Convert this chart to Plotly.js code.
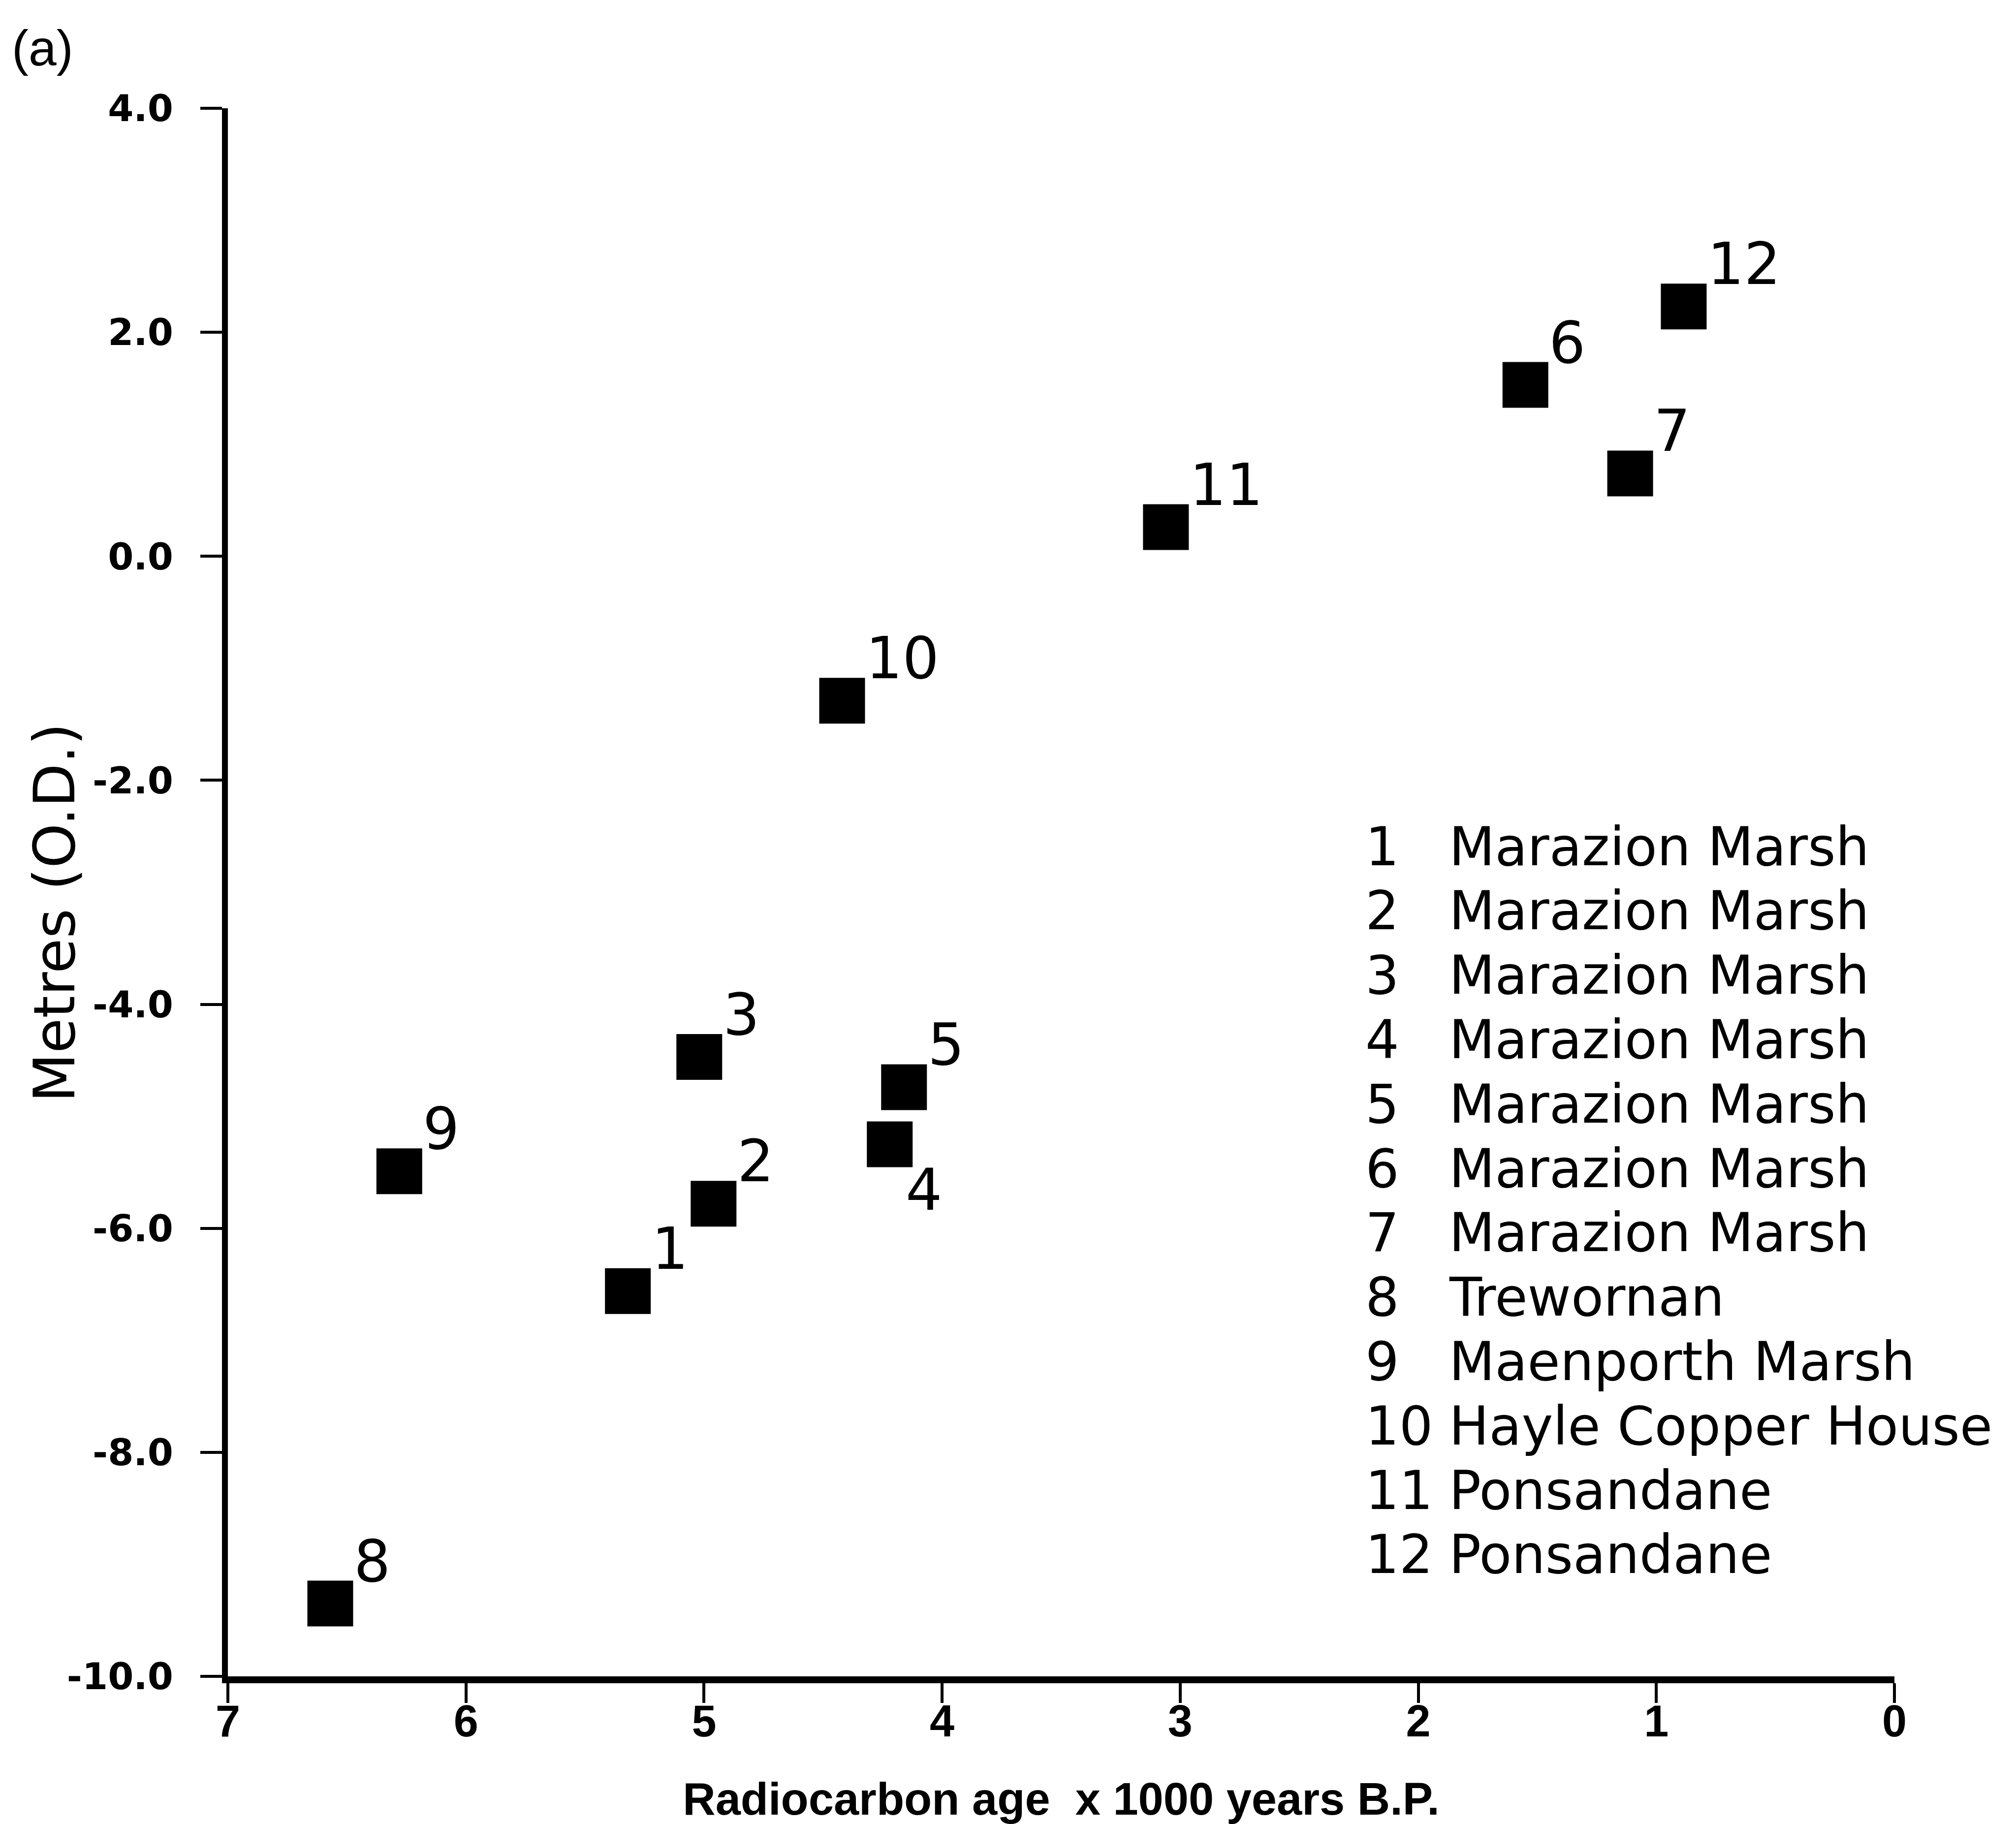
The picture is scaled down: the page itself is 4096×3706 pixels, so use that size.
<!DOCTYPE html>
<html>
<head>
<meta charset="utf-8">
<script src="https://cdn.plot.ly/plotly-3.0.1.min.js"></script>
<style>
  html, body { margin: 0; padding: 0; background: #ffffff; }
  #chart { width: 4096px; height: 3706px; }
</style>
</head>
<body>
<div id="chart"></div>
<script>
// ---- data ----
const sampleNo = ['1', '2', '3', '4', '5', '6', '7', '8', '9', '10', '11', '12'];
const siteNames = ['Marazion Marsh', 'Marazion Marsh', 'Marazion Marsh', 'Marazion Marsh',
  'Marazion Marsh', 'Marazion Marsh', 'Marazion Marsh', 'Trewornan', 'Maenporth Marsh',
  'Hayle Copper House', 'Ponsandane', 'Ponsandane'];
const ageKyrBP = [5.32, 4.96, 5.02, 4.22, 4.16, 1.55, 1.11, 6.57, 6.28, 4.42, 3.06, 0.885];
const metresOD = [-6.56, -5.78, -4.47, -5.25, -4.74, 1.53, 0.74, -9.35, -5.49, -1.29, 0.26, 2.23];
const labelSide = ['above', 'above', 'above', 'below', 'above', 'above', 'above', 'above',
  'above', 'above', 'above', 'above'];
const xTickVals = [7, 6, 5, 4, 3, 2, 1, 0];
const xTickText = ['7', '6', '5', '4', '3', '2', '1', '0'];
const yTickVals = [4, 2, 0, -2, -4, -6, -8, -10];
const yTickText = ['4.0', '2.0', '0.0', '-2.0', '-4.0', '-6.0', '-8.0', '-10.0'];
const panelLabel = '(a)';
const xTitle = 'Radiocarbon age&nbsp;&nbsp;x 1000 years B.P.';
const yTitle = 'Metres (O.D.)';

// ---- layout geometry (pixels) ----
const W = 4096, H = 3706;
const M = { l: 463, r: 247, t: 220, b: 300 };
const plotW = W - M.l - M.r, plotH = H - M.t - M.b;
const px2paperX = px => (px - M.l) / plotW;
const py2paperY = py => (H - M.b - py) / plotH;

const arialLike = '"Liberation Sans", Arial, sans-serif';
const sans = '"DejaVu Sans", Verdana, sans-serif';

const trace = {
  type: 'scatter',
  mode: 'markers',
  x: ageKyrBP,
  y: metresOD,
  text: sampleNo,
  marker: { symbol: 'square', size: 93, color: '#000000', line: { width: 0 } },
  hoverinfo: 'skip',
  showlegend: false
};

const annotations = [];
// point number labels
for (let i = 0; i < sampleNo.length; i++) {
  const below = labelSide[i] === 'below';
  annotations.push({
    x: ageKyrBP[i], y: metresOD[i], xref: 'x', yref: 'y',
    text: sampleNo[i], showarrow: false,
    xanchor: 'left', yanchor: 'middle',
    xshift: below ? 30 : 46, yshift: below ? -92 : 86,
    font: { family: sans, size: 117, color: '#000000' }
  });
}
// key (list of sites)
const keyTop = 1720, keyStep = 130.8;
for (let i = 0; i < sampleNo.length; i++) {
  const yp = py2paperY(keyTop + i * keyStep);
  annotations.push({
    x: px2paperX(2772), y: yp, xref: 'paper', yref: 'paper',
    text: sampleNo[i], showarrow: false, xanchor: 'left', yanchor: 'middle',
    font: { family: sans, size: 108, color: '#000000' }
  });
  annotations.push({
    x: px2paperX(2942), y: yp, xref: 'paper', yref: 'paper',
    text: siteNames[i], showarrow: false, xanchor: 'left', yanchor: 'middle',
    font: { family: sans, size: 108, color: '#000000' }
  });
}
// y-axis title (placed as rotated text so it can sit close to the tick labels)
annotations.push({
  x: px2paperX(110), y: py2paperY(1855), xref: 'paper', yref: 'paper',
  text: yTitle, showarrow: false, textangle: -90,
  xanchor: 'center', yanchor: 'middle',
  font: { family: sans, size: 116, color: '#000000' }
});
// panel label
annotations.push({
  x: px2paperX(22), y: py2paperY(98), xref: 'paper', yref: 'paper',
  text: panelLabel, showarrow: false, xanchor: 'left', yanchor: 'middle',
  font: { family: arialLike, size: 102, color: '#000000' }
});

const layout = {
  width: W, height: H,
  margin: M,
  paper_bgcolor: '#ffffff', plot_bgcolor: '#ffffff',
  showlegend: false,
  xaxis: {
    range: [7, 0], autorange: false,
    tickmode: 'array', tickvals: xTickVals, ticktext: xTickText,
    showgrid: false, zeroline: false,
    showline: true, linecolor: '#000000', linewidth: 14,
    ticks: 'outside', ticklen: 40, tickwidth: 6, tickcolor: '#000000',
    ticklabelstandoff: -40,
    tickfont: { family: arialLike, size: 90, color: '#000000', weight: 'bold' },
    title: { text: xTitle, standoff: 100,
      font: { family: arialLike, size: 92, color: '#000000', weight: 'bold' } }
  },
  yaxis: {
    range: [-10, 4], autorange: false,
    tickmode: 'array', tickvals: yTickVals, ticktext: yTickText,
    showgrid: false, zeroline: false,
    showline: true, linecolor: '#000000', linewidth: 12,
    ticks: 'outside', ticklen: 44, tickwidth: 6, tickcolor: '#000000',
    ticklabelstandoff: 40,
    tickfont: { family: sans, size: 75, color: '#000000', weight: 'bold' },
    title: { text: '' }
  },
  annotations: annotations
};

Plotly.newPlot('chart', [trace], layout, { staticPlot: true, displayModeBar: false });
</script>
</body>
</html>
